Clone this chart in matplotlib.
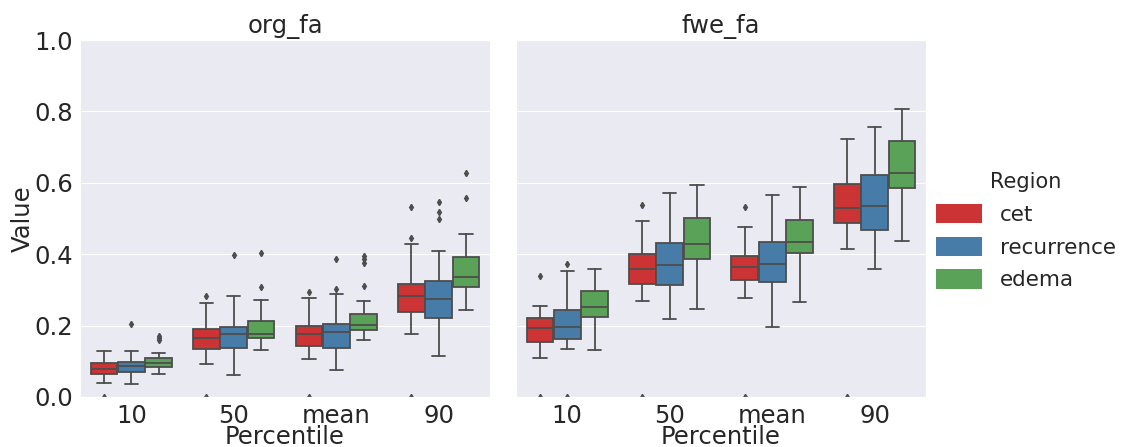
import numpy as np
import matplotlib
matplotlib.use('Agg')
import matplotlib.pyplot as plt
import seaborn as sns
from matplotlib.patches import Patch

sns.set_style('darkgrid')
plt.rcParams['font.family'] = ['DejaVu Sans']

percentiles = ['10', '50', 'mean', '90']
regions = ['cet', 'recurrence', 'edema']
features = ['org_fa', 'fwe_fa']

# box stats, rows = region (cet, recurrence, edema), cols = percentile
org_lo = [[0.040, 0.092, 0.105, 0.177],
          [0.036, 0.062, 0.075, 0.115],
          [0.064, 0.132, 0.160, 0.244]]
org_q1 = [[0.064, 0.133, 0.143, 0.238],
          [0.070, 0.136, 0.138, 0.222],
          [0.083, 0.165, 0.188, 0.308]]
org_med = [[0.079, 0.164, 0.175, 0.282],
           [0.087, 0.176, 0.181, 0.274],
           [0.094, 0.177, 0.201, 0.336]]
org_q3 = [[0.096, 0.190, 0.199, 0.317],
          [0.099, 0.197, 0.203, 0.326],
          [0.108, 0.214, 0.233, 0.392]]
org_hi = [[0.128, 0.264, 0.278, 0.429],
          [0.130, 0.284, 0.289, 0.408],
          [0.122, 0.272, 0.270, 0.457]]
org_fliers = [[[0.0], [0.0, 0.283], [0.0, 0.295], [0.0, 0.444, 0.531]],
              [[0.205], [0.398], [0.302, 0.386], [0.499, 0.518, 0.546]],
              [[0.160, 0.166, 0.172], [0.308, 0.403], [0.312, 0.376, 0.386, 0.395], [0.558, 0.628]]]

fwe_lo = [[0.110, 0.269, 0.277, 0.415],
          [0.133, 0.218, 0.196, 0.359],
          [0.131, 0.245, 0.265, 0.438]]
fwe_q1 = [[0.155, 0.317, 0.328, 0.486],
          [0.162, 0.314, 0.323, 0.468],
          [0.225, 0.387, 0.403, 0.585]]
fwe_med = [[0.194, 0.359, 0.363, 0.528],
           [0.195, 0.370, 0.373, 0.536],
           [0.253, 0.429, 0.433, 0.626]]
fwe_q3 = [[0.222, 0.401, 0.396, 0.597],
          [0.244, 0.432, 0.434, 0.622],
          [0.296, 0.501, 0.496, 0.716]]
fwe_hi = [[0.256, 0.492, 0.477, 0.724],
          [0.352, 0.572, 0.567, 0.757],
          [0.358, 0.595, 0.587, 0.807]]
fwe_fliers = [[[0.0, 0.338], [0.0, 0.539], [0.0, 0.533], [0.0]],
              [[0.0, 0.373], [], [], []],
              [[], [], [], []]]

panels = {
    'org_fa': (org_lo, org_q1, org_med, org_q3, org_hi, org_fliers),
    'fwe_fa': (fwe_lo, fwe_q1, fwe_med, fwe_q3, fwe_hi, fwe_fliers),
}

colors = ['#cb3335', '#477ca8', '#59a257']
line_gray = '#4d4d4d'

fig = plt.figure(figsize=(11.21, 4.47), dpi=100)
ax1 = fig.add_axes([0.0714, 0.112, 0.3657, 0.7985])
ax2 = fig.add_axes([0.4603, 0.112, 0.3657, 0.7985], sharey=ax1)

fs = 17.5
box_w = 0.8 / 3
for ax, feat in zip([ax1, ax2], features):
    lo, q1, med, q3, hi, fl = panels[feat]
    for r in range(3):
        stats = []
        for c in range(len(percentiles)):
            stats.append(dict(med=med[r][c], q1=q1[r][c], q3=q3[r][c],
                              whislo=lo[r][c], whishi=hi[r][c], fliers=fl[r][c]))
        pos = np.arange(len(percentiles)) + (r - 1) * box_w
        ax.bxp(stats, positions=pos, widths=box_w * 0.98, patch_artist=True,
               manage_ticks=False,
               boxprops=dict(facecolor=colors[r], edgecolor=line_gray, linewidth=1.3),
               medianprops=dict(color=line_gray, linewidth=1.3),
               whiskerprops=dict(color=line_gray, linewidth=1.3),
               capprops=dict(color=line_gray, linewidth=1.3),
               flierprops=dict(marker='d', markersize=3.2, markerfacecolor=line_gray,
                               markeredgecolor=line_gray))
    ax.set_xlim(-0.5, len(percentiles) - 0.5)
    ax.set_xticks(np.arange(len(percentiles)))
    ax.set_xticklabels(percentiles, fontsize=fs)
    ax.xaxis.grid(False)
    ax.set_title(feat, fontsize=fs, pad=5)
    ax.set_xlabel('Percentile', fontsize=fs, labelpad=-2)
    ax.tick_params(axis='both', length=0, pad=5)

ax1.set_ylim(0, 1.0)
ax1.set_yticks([0.0, 0.2, 0.4, 0.6, 0.8, 1.0])
ax1.tick_params(axis='y', labelsize=fs)
ax1.set_ylabel('Value', fontsize=fs, labelpad=0)
plt.setp(ax2.get_yticklabels(), visible=False)

handles = [Patch(facecolor=colors[i], edgecolor='none', label=regions[i]) for i in range(3)]
fig.legend(handles=handles, title='Region', loc='center left',
           bbox_to_anchor=(0.818, 0.483), frameon=False, fontsize=15.5,
           title_fontsize=15, handlelength=2.1, handleheight=1.0,
           labelspacing=0.55, handletextpad=0.85)

fig.savefig('out.png', dpi=100)
